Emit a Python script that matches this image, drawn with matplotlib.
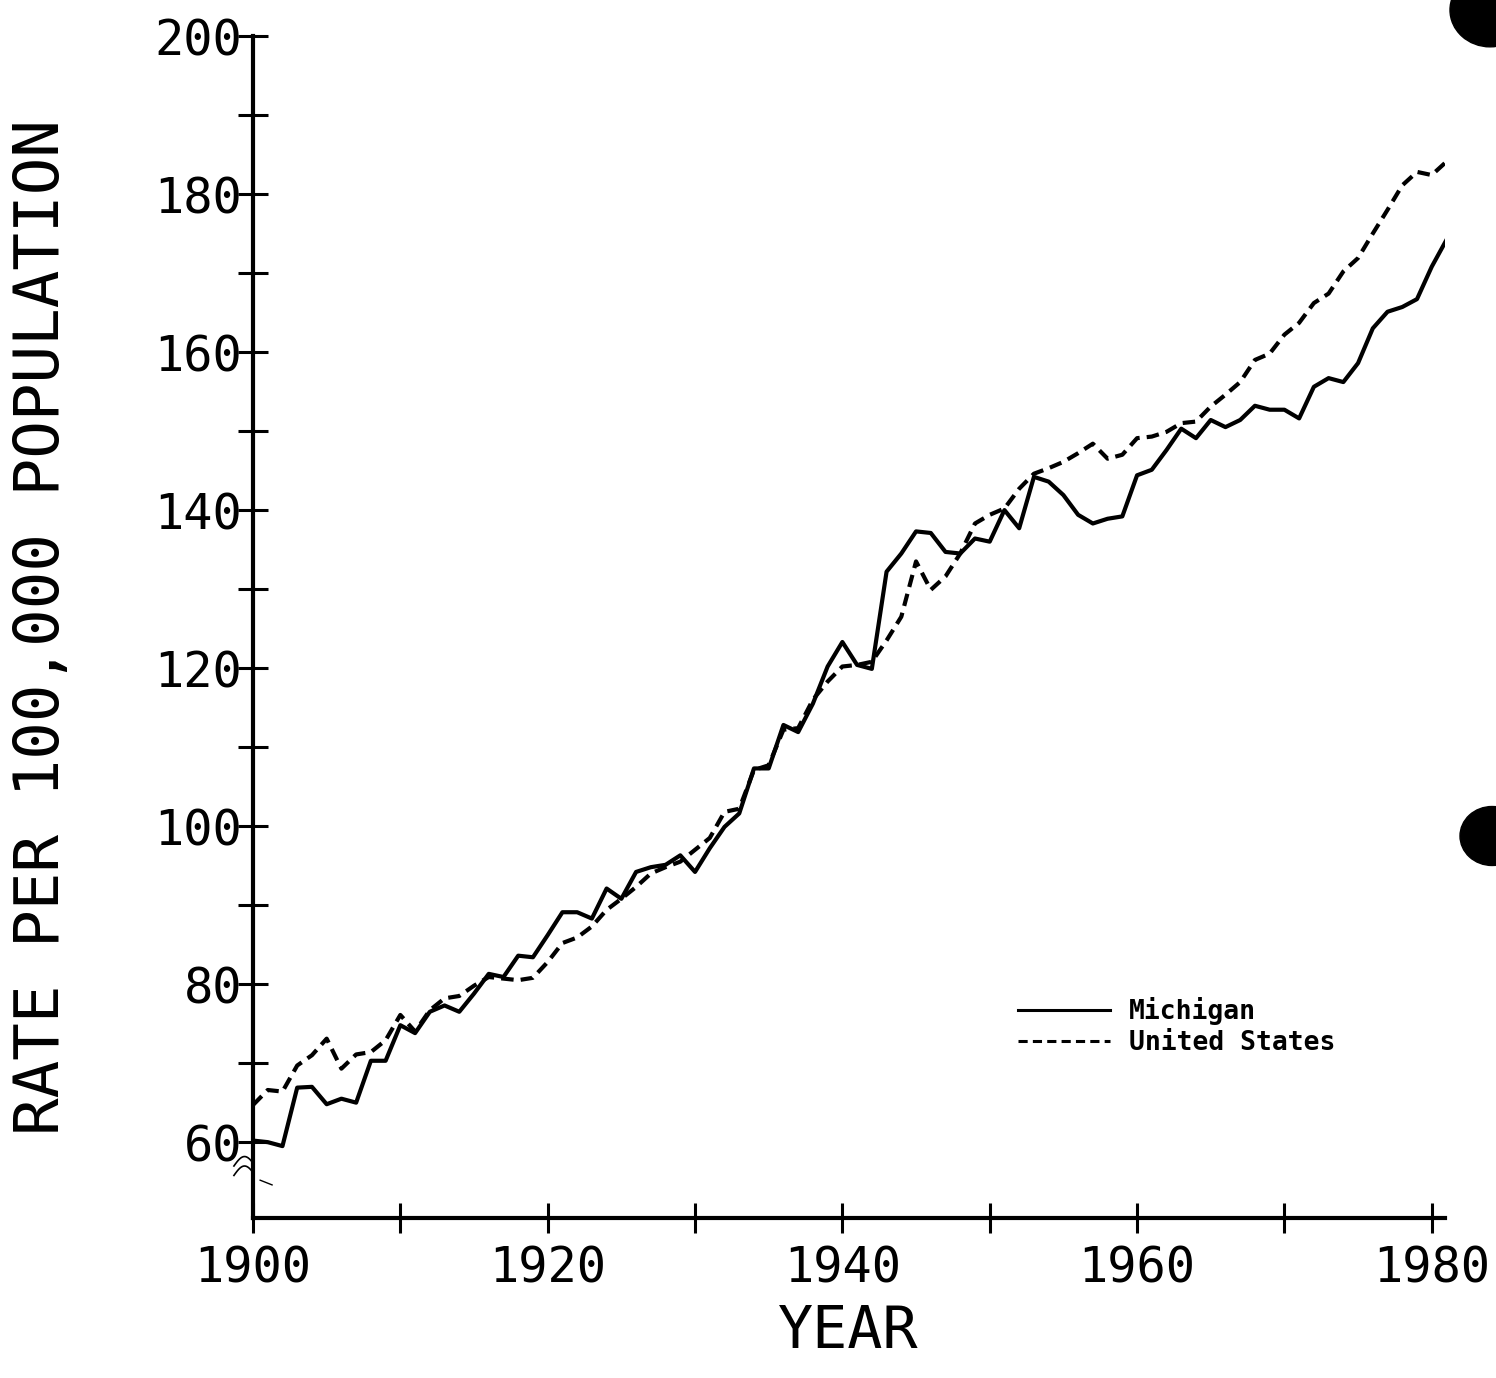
import matplotlib
matplotlib.use("Agg")
import matplotlib.pyplot as plt
from matplotlib.patches import Circle
import numpy as np

years = list(range(1900, 1982))
michigan = [60.2, 60.0, 59.5, 66.9, 67.0, 64.8, 65.5, 65.0, 70.3, 70.3,
            74.8, 73.8, 76.5, 77.3, 76.5, 78.8, 81.3, 80.9, 83.6, 83.4,
            86.2, 89.1, 89.1, 88.3, 92.1, 90.8, 94.2, 94.8, 95.1, 96.3,
            94.2, 97.2, 99.9, 101.6, 107.3, 107.3, 112.8, 111.9, 115.5, 120.2,
            123.3, 120.4, 119.9, 132.2, 134.5, 137.3, 137.1, 134.7, 134.5, 136.4,
            136.0, 140.0, 137.7, 144.2, 143.6, 141.9, 139.4, 138.3, 138.9, 139.2,
            144.4, 145.1, 147.6, 150.3, 149.1, 151.4, 150.5, 151.4, 153.2, 152.7,
            152.7, 151.6, 155.6, 156.7, 156.2, 158.6, 163.0, 165.1, 165.7, 166.7,
            170.8, 174.2]
united_states = [64.7, 66.6, 66.4, 69.7, 71.0, 73.1, 69.3, 71.1, 71.4, 72.9,
                 76.1, 74.0, 76.7, 78.2, 78.5, 79.8, 80.9, 80.7, 80.5, 80.8,
                 82.8, 85.2, 85.9, 87.3, 89.4, 90.8, 92.3, 94.0, 94.8, 95.5,
                 97.0, 98.5, 101.8, 102.2, 107.1, 107.7, 112.2, 112.4, 116.0, 118.3,
                 120.2, 120.4, 120.8, 123.5, 126.5, 133.5, 129.9, 131.6, 134.5, 138.3,
                 139.4, 140.2, 142.7, 144.6, 145.3, 146.1, 147.2, 148.4, 146.5, 147.0,
                 149.1, 149.3, 149.9, 151.0, 151.2, 153.1, 154.6, 156.2, 159.0, 159.8,
                 162.2, 163.7, 166.2, 167.4, 170.2, 171.9, 175.0, 178.0, 181.1, 182.8,
                 182.4, 184.1]
x_ticks = list(range(1900, 1990, 10))
x_labels = ["1900", "", "1920", "", "1940", "", "1960", "", "1980"]
y_ticks = list(range(60, 210, 10))
y_labels = [str(v) if v % 20 == 0 else "" for v in y_ticks]

W, H = 1496, 1378
fig = plt.figure(figsize=(W / 100, H / 100), dpi=100)
ax = fig.add_axes([253 / W, 160 / H, (1445 - 253) / W, (1218 - 36) / H])

mono = "DejaVu Sans Mono"
ax.plot(years, michigan, color="black", lw=3.0, solid_joinstyle="round",
        label="Michigan")
ax.plot(years, united_states, color="black", lw=3.0, linestyle=(0, (3.0, 1.7)),
        label="United States")

ax.set_xlim(1900, 1980.9)
ax.set_ylim(50.4, 200)
for s in ["top", "right"]:
    ax.spines[s].set_visible(False)
for s in ["left", "bottom"]:
    ax.spines[s].set_linewidth(3.0)

ax.set_xticks(x_ticks)
ax.set_xticklabels(x_labels)
ax.set_yticks(y_ticks)
ax.set_yticklabels(y_labels)
ax.tick_params(axis="both", direction="inout", length=22, width=2.2,
               labelsize=35)
ax.tick_params(axis="y", pad=-3)
ax.tick_params(axis="x", pad=8)
for lab in ax.get_xticklabels() + ax.get_yticklabels():
    lab.set_fontfamily(mono)

# axis titles
fig.text(42 / W, 1 - 627 / H, "RATE PER 100,000 POPULATION", rotation=90,
         ha="center", va="center", fontsize=45, family=mono)
fig.text(848 / W, 1 - 1332 / H, "YEAR", ha="center", va="center",
         fontsize=42, family=mono)

# legend
leg = ax.legend(loc="upper left", bbox_to_anchor=(1018 / W, 1 - 997 / H),
                bbox_transform=fig.transFigure, frameon=False,
                prop={"family": mono, "weight": "bold", "size": 19},
                handlelength=3.5, handletextpad=0.7, labelspacing=0.2,
                borderpad=0, borderaxespad=0)
for h in leg.get_lines():
    h.set_linewidth(2.2)

# axis break marks
t = np.linspace(0, 1, 20)
for dy in (0.0, 0.008):
    ax.plot(-0.016 + 0.016 * t, 0.036 + dy + 0.008 * np.sin(np.pi * t * 0.9),
            transform=ax.transAxes, color="black", lw=1.2, clip_on=False)
ax.plot(0.006 + 0.01 * t, 0.032 - 0.004 * t, transform=ax.transAxes,
        color="black", lw=1.0, clip_on=False)

# hole-punch marks of the scanned page
for cx, cy, r in [(1490, 10, 40), (1492, 836, 32)]:
    fig.patches.append(Circle((cx / W, 1 - cy / H), r / W, transform=fig.transFigure,
                              color="black"))

fig.savefig("out.png", dpi=100)
